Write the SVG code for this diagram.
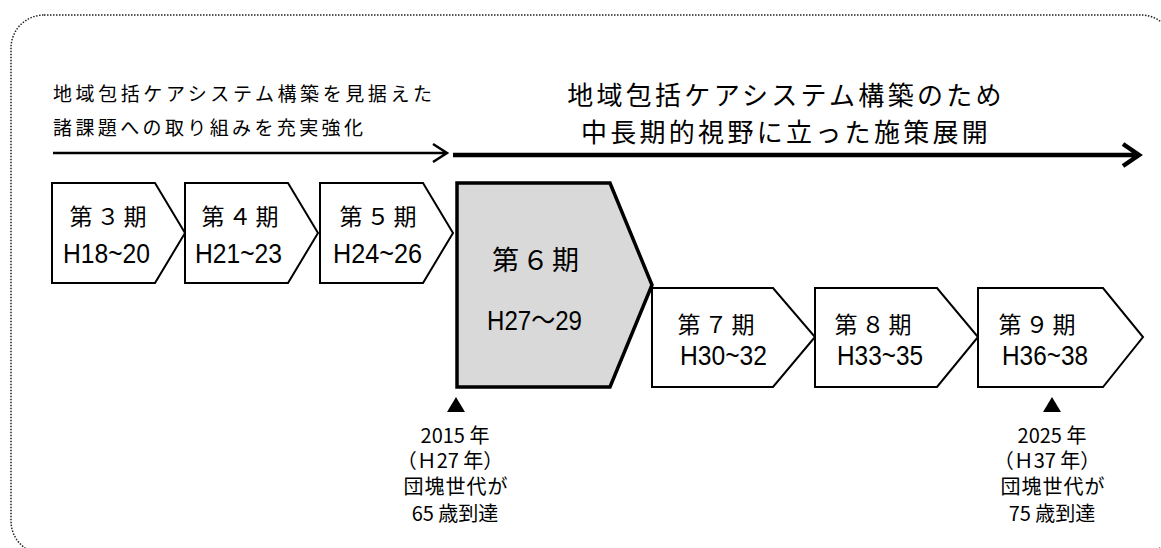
<svg xmlns="http://www.w3.org/2000/svg" width="1161" height="548" viewBox="0 0 1161 548">
<style>
.jp{font-family:"Noto Sans CJK JP","Liberation Sans",sans-serif;fill:#000}
.num{font-family:"Liberation Sans","Noto Sans CJK JP",sans-serif;fill:#000}
.box{fill:#fff;stroke:#000;stroke-width:2;stroke-linejoin:miter}
.big{fill:#d9d9d9;stroke:#000;stroke-width:3.5;stroke-linejoin:miter}
.arr{fill:none;stroke:#000;stroke-linecap:butt;stroke-linejoin:miter}
.lbl{font-family:"Noto Sans CJK JP","Liberation Sans",sans-serif;font-size:20px;text-anchor:middle;fill:#000}
</style>
<rect x="11" y="15" width="1163" height="539" rx="33" ry="33" fill="none" stroke="#222" stroke-width="1.5" stroke-dasharray="1.5 1.5"/>

<g id="heading-left">
<text class="jp" x="53" y="101" font-size="19" textLength="379">地域包括ケアシステム構築を見据えた</text>
<text class="jp" x="53" y="135" font-size="19" textLength="310">諸課題への取り組みを充実強化</text>
</g>
<g id="heading-right">
<text class="jp" x="786" y="105" font-size="26" text-anchor="middle" letter-spacing="3.3">地域包括ケアシステム構築のため</text>
<text class="jp" x="786" y="142" font-size="26" text-anchor="middle" letter-spacing="3.3">中長期的視野に立った施策展開</text>
</g>

<g id="connectors">
<path class="arr" stroke-width="2.5" d="M53 153H446M433 144L447 153L433 162"/>
<path class="arr" stroke-width="4.5" d="M453 155H1137M1123 144L1139 155L1123 166"/>
</g>

<g id="period3">
<polygon class="box" points="52,183 155,183 185,233 155,283 52,283"/>
<text class="jp" x="110" y="225" font-size="23" text-anchor="middle" letter-spacing="4">第３期</text>
<text class="num" x="63" y="263" font-size="28" textLength="87" lengthAdjust="spacingAndGlyphs">H18~20</text>
</g>
<g id="period4">
<polygon class="box" points="185,183 288,183 318,233 288,283 185,283"/>
<text class="jp" x="242" y="225" font-size="23" text-anchor="middle" letter-spacing="4">第４期</text>
<text class="num" x="195" y="263" font-size="28" textLength="87" lengthAdjust="spacingAndGlyphs">H21~23</text>
</g>
<g id="period5">
<polygon class="box" points="320,183 423,183 453,233 423,283 320,283"/>
<text class="jp" x="380" y="225" font-size="23" text-anchor="middle" letter-spacing="4">第５期</text>
<text class="num" x="333" y="263" font-size="28" textLength="89" lengthAdjust="spacingAndGlyphs">H24~26</text>
</g>
<g id="period6">
<polygon class="big" points="457,183 610,183 652,285 610,387 457,387"/>
<text class="jp" x="537" y="270" font-size="27" text-anchor="middle" letter-spacing="3">第６期</text>
<text class="num" x="487" y="330" font-size="27" textLength="95" lengthAdjust="spacingAndGlyphs">H27～29</text>
</g>
<g id="period7">
<polygon class="box" points="652,288 773,288 815,337 773,387 652,387"/>
<text class="jp" x="718" y="333" font-size="23" text-anchor="middle" letter-spacing="4">第７期</text>
<text class="num" x="680" y="365" font-size="28" textLength="87" lengthAdjust="spacingAndGlyphs">H30~32</text>
</g>
<g id="period8">
<polygon class="box" points="815,288 937,288 978,337 937,387 815,387"/>
<text class="jp" x="875" y="333" font-size="23" text-anchor="middle" letter-spacing="4">第８期</text>
<text class="num" x="837" y="365" font-size="28" textLength="86" lengthAdjust="spacingAndGlyphs">H33~35</text>
</g>
<g id="period9">
<polygon class="box" points="978,288 1103,288 1143,337 1103,387 978,387"/>
<text class="jp" x="1039" y="333" font-size="23" text-anchor="middle" letter-spacing="4">第９期</text>
<text class="num" x="1002" y="365" font-size="28" textLength="86" lengthAdjust="spacingAndGlyphs">H36~38</text>
</g>

<g id="milestone-2015">
<polygon points="447,412 456,397 465,412" fill="#000"/>
<text class="lbl" x="455" y="443">2015 年</text>
<text class="lbl" x="450" y="468">（Ｈ27 年）</text>
<text class="lbl" x="456" y="494" letter-spacing="1">団塊世代が</text>
<text class="lbl" x="455" y="521">65 歳到達</text>
</g>
<g id="milestone-2025">
<polygon points="1043,412 1052,397 1061,412" fill="#000"/>
<text class="lbl" x="1052" y="443">2025 年</text>
<text class="lbl" x="1047" y="468">（Ｈ37 年）</text>
<text class="lbl" x="1053" y="494" letter-spacing="1">団塊世代が</text>
<text class="lbl" x="1052" y="521">75 歳到達</text>
</g>
</svg>
